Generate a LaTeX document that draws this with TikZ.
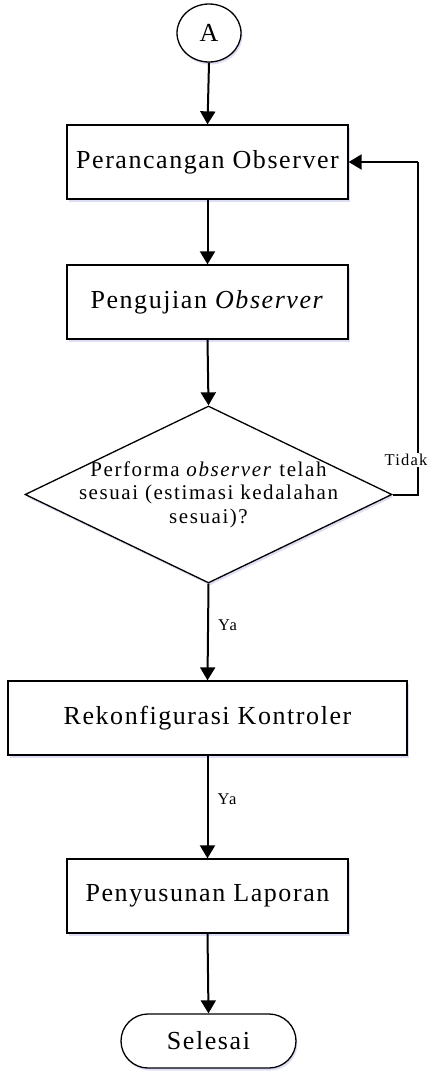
\documentclass[tikz,border=0pt]{standalone}
\usepackage{fontspec}
\setmainfont{Liberation Serif}
\newfontfamily\boxfont[LetterSpace=6]{Liberation Serif}
\newfontfamily\smallfont[LetterSpace=7.5]{Liberation Serif}
\usetikzlibrary{arrows.meta,shapes.geometric,shadows}
\begin{document}
\begin{tikzpicture}[x=1pt,y=-1pt,
  shadowed/.style={drop shadow={shadow xshift=1.5pt,shadow yshift=-2.5pt,fill=blue!50!gray,opacity=0.18}},
  procbox/.style={draw,line width=1.3pt,fill=white,shadowed,minimum width=281pt,minimum height=74pt,inner sep=0pt,
    font=\boxfont\fontsize{26}{30}\selectfont},
  termnode/.style={draw,line width=1.3pt,fill=white,shadowed,inner sep=0pt,font=\boxfont\fontsize{26}{30}\selectfont},
  decision/.style={draw,diamond,line width=1.3pt,fill=white,shadowed,minimum width=367pt,minimum height=177pt,inner sep=0pt},
  dectext/.style={align=center,font=\smallfont\fontsize{21}{23.5}\selectfont,inner sep=0pt},
  flow/.style={line width=2pt,-{Triangle[width=15pt,length=13pt]}},
  lbl/.style={font=\smallfont\fontsize{16.5}{19}\selectfont,inner sep=1pt}
]
\useasboundingbox (0,0) rectangle (431,1071);
\node[termnode,ellipse,minimum width=64pt,minimum height=58pt] (a) at (209,33) {A};
\node[procbox] (b1) at (207.5,162) {Perancangan Observer};
\node[procbox] (b2) at (207.5,302) {Pengujian \textit{Observer}};
\node[decision,label={[dectext]center:Performa \textit{observer} telah\\sesuai (estimasi kedalahan\\sesuai)?}] (dec) at (208.5,494.5) {};
\node[procbox,minimum width=399pt] (b3) at (207.5,718) {Rekonfigurasi Kontroler};
\node[procbox] (b4) at (207.5,896) {Penyusunan Laporan};
\node[termnode,rounded corners=27pt,minimum width=175pt,minimum height=54pt] (end) at (208.5,1041) {Selesai};
\coordinate (r1) at (418,494.5);
\coordinate (r2) at (418,162);
\draw[flow] (a.south) -- (b1.north);
\draw[flow] (b1.south) -- (b2.north);
\draw[flow] (b2.south) -- (dec.north);
\draw[flow] (dec.south) -- node[lbl,right,pos=0.43,xshift=8pt]{Ya} (b3.north);
\draw[flow] (b3.south) -- node[lbl,right,pos=0.42,xshift=8pt]{Ya} (b4.north);
\draw[flow] (b4.south) -- (end.north);
\draw[line width=2pt] (dec.east) -- (r1) -- (r2);
\draw[flow] (r2) -- (b1.east);
\node[lbl,fill=white] (tidak) at (406,460) {Tidak};
\end{tikzpicture}
\end{document}
